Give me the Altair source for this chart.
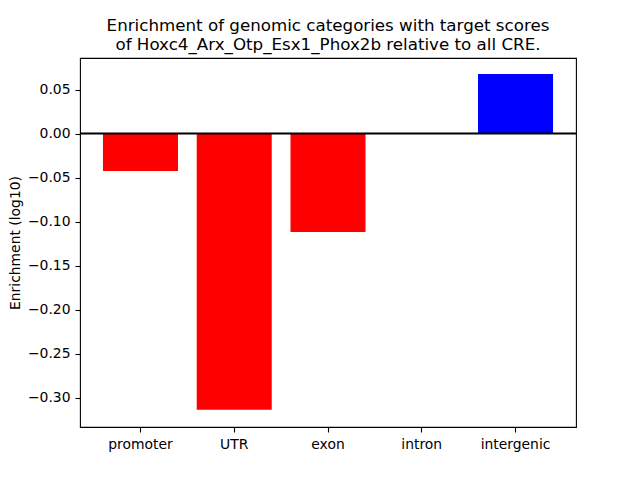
import altair as alt
import pandas as pd

categories = ["promoter", "UTR", "exon", "intron", "intergenic"]
values = [-0.0426, -0.3140, -0.1120, 0.0, 0.0676]
y_ticks = [-0.30, -0.25, -0.20, -0.15, -0.10, -0.05, 0.00, 0.05]
title_lines = [
    "Enrichment of genomic categories with target scores",
    "of Hoxc4_Arx_Otp_Esx1_Phox2b relative to all CRE.",
]
y_title = "Enrichment (log10)"

df = pd.DataFrame({"category": categories, "value": values})
zero_df = pd.DataFrame({"y": [0.0]})

FONT = "DejaVu Sans"

bars = alt.Chart(df).mark_bar().encode(
    x=alt.X(
        "category:N",
        sort=categories,
        scale=alt.Scale(paddingInner=0.2, paddingOuter=0.245),
        axis=alt.Axis(title=None, labelAngle=0),
    ),
    y=alt.Y(
        "value:Q",
        scale=alt.Scale(domain=[-0.3335, 0.0858], nice=False, zero=False),
        axis=alt.Axis(title=y_title, values=y_ticks, format=".2f", titlePadding=5),
    ),
    color=alt.condition(alt.datum.value > 0, alt.value("#0000ff"), alt.value("#ff0000")),
)

rule = alt.Chart(zero_df).mark_rule(color="black", strokeWidth=1.8).encode(y="y:Q")

chart = (
    alt.layer(bars, rule)
    .properties(
        width=496,
        height=369,
        title=alt.TitleParams(
            text=title_lines,
            fontSize=16.7,
            font=FONT,
            fontWeight="normal",
            anchor="middle",
            color="black",
            lineHeight=19.5,
            offset=4,
        ),
        autosize=alt.AutoSizeParams(type="none"),
        padding={"left": 72, "top": 50, "right": 56, "bottom": 45},
    )
    .configure_view(stroke="black", strokeWidth=1.1)
    .configure_axis(
        domain=False,
        grid=False,
        tickColor="black",
        tickSize=5,
        tickWidth=1.1,
        labelFont=FONT,
        labelFontSize=13.9,
        labelColor="black",
        labelPadding=5,
        titleFont=FONT,
        titleFontSize=13.9,
        titleFontWeight="normal",
        titleColor="black",
    )
)

chart.save("out.html", embed_options={"renderer": "svg", "actions": False})
